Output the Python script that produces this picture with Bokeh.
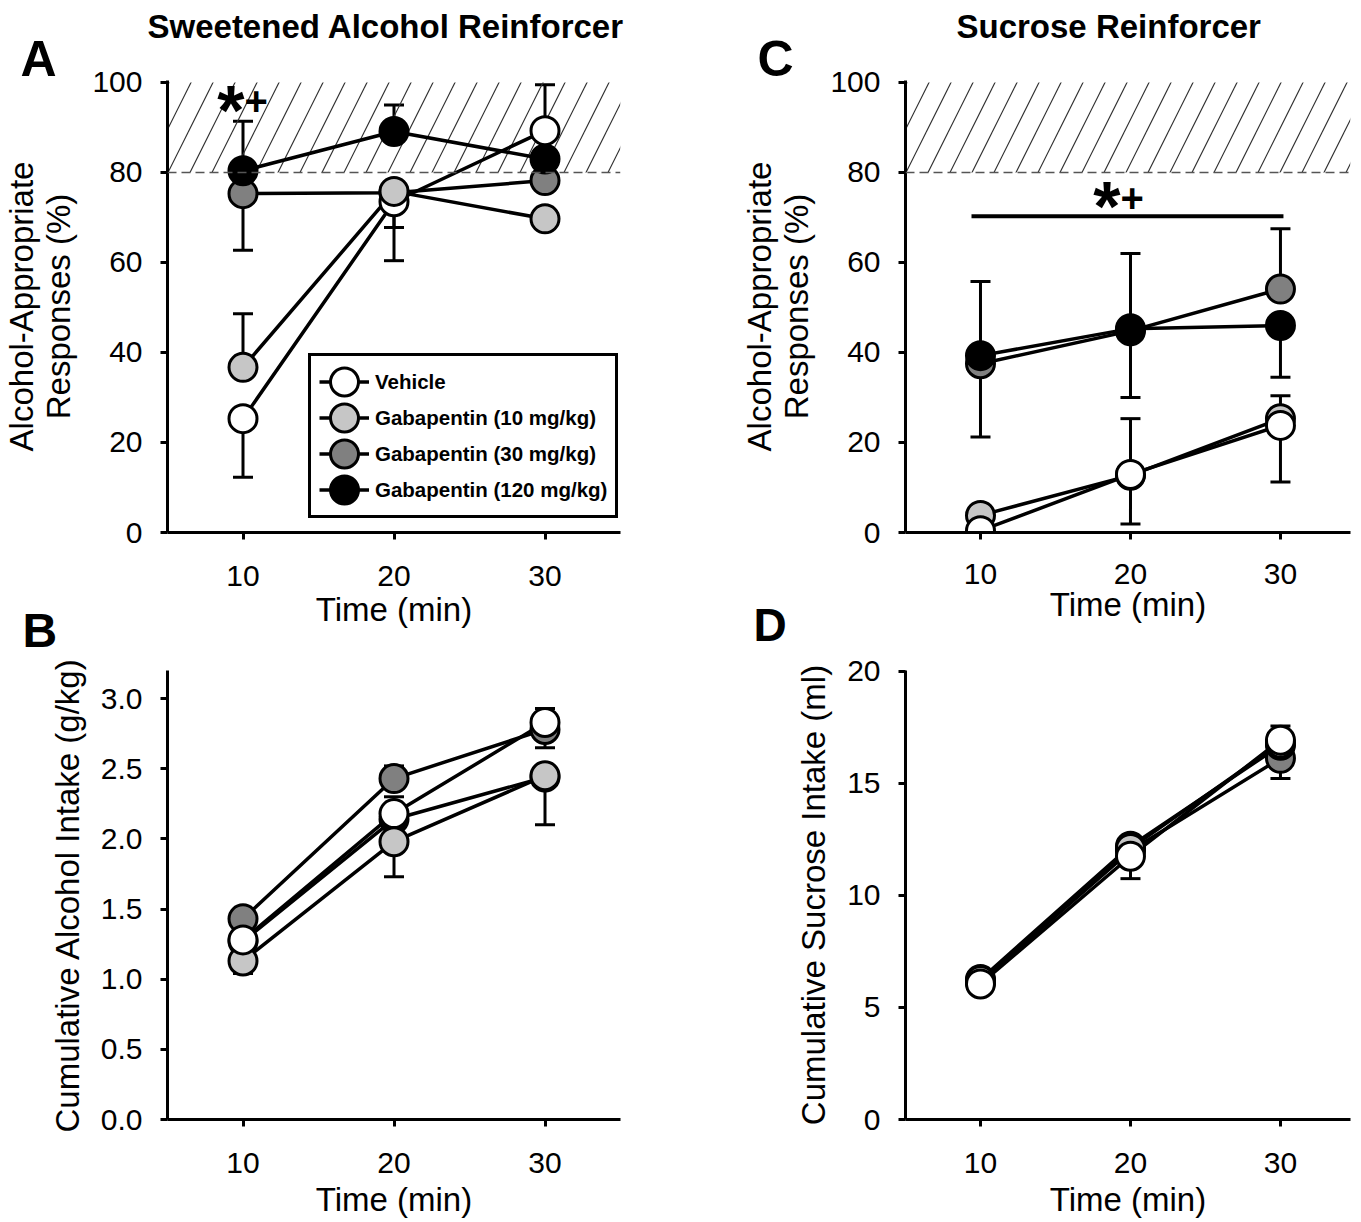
from bokeh.plotting import figure
from bokeh.models import (Label, Legend, LegendItem, Whisker, TeeHead, ColumnDataSource,
                          FixedTicker, NumeralTickFormatter, Range1d, Span, Title)
from bokeh.layouts import column, row
from bokeh.embed import file_html
from bokeh.resources import INLINE

FONT = "Liberation Sans"

# ---------------- data ----------------
time_min = [10, 20, 30]
group_names = ["Vehicle", "Gabapentin (10 mg/kg)", "Gabapentin (30 mg/kg)", "Gabapentin (120 mg/kg)"]
group_fills = ["#FFFFFF", "#C6C6C6", "#808080", "#000000"]

# Panel A: sweetened alcohol reinforcer, alcohol-appropriate responses (%)
a_vehicle = [25.3, 73.5, 89.3]
a_g10 = [36.7, 75.8, 69.7]
a_g30 = [75.3, 75.5, 78.2]
a_g120 = [80.4, 89.1, 83.0]
a_up_vehicle = [0, 0, 10.2]
a_up_g10 = [11.9, 0, 0]
a_up_g30 = [0, 0, 0]
a_up_g120 = [11.0, 5.9, 0]
a_dn_vehicle = [13.0, 13.1, 0]
a_dn_g10 = [0, 8.0, 0]
a_dn_g30 = [12.6, 0, 2.0]
a_dn_g120 = [0, 0, 0]

# Panel B: cumulative alcohol intake (g/kg)
b_vehicle = [1.28, 2.18, 2.83]
b_g10 = [1.13, 1.98, 2.45]
b_g30 = [1.43, 2.43, 2.78]
b_g120 = [1.27, 2.14, 2.44]
b_up_vehicle = [0, 0.12, 0.10]
b_up_g10 = [0, 0, 0]
b_up_g30 = [0, 0.09, 0]
b_up_g120 = [0, 0, 0]
b_dn_vehicle = [0, 0, 0]
b_dn_g10 = [0.09, 0.25, 0.35]
b_dn_g30 = [0, 0, 0.13]
b_dn_g120 = [0, 0, 0]

# Panel C: sucrose reinforcer, alcohol-appropriate responses (%)
c_vehicle = [0.4, 12.9, 23.8]
c_g10 = [3.8, 12.7, 25.3]
c_g30 = [37.5, 44.8, 54.1]
c_g120 = [39.3, 45.3, 46.0]
c_up_vehicle = [0, 0, 0]
c_up_g10 = [0, 12.6, 5.1]
c_up_g30 = [0, 0, 13.4]
c_up_g120 = [16.5, 16.7, 0]
c_dn_vehicle = [0, 11.0, 12.6]
c_dn_g10 = [0, 0, 0]
c_dn_g30 = [16.3, 14.8, 0]
c_dn_g120 = [0, 0, 11.5]

# Panel D: cumulative sucrose intake (ml)
d_vehicle = [6.05, 11.75, 16.93]
d_g10 = [6.2, 12.1, 16.8]
d_g30 = [6.15, 12.0, 16.12]
d_g120 = [6.25, 12.2, 16.7]
d_up_vehicle = [0, 0, 0.63]
d_up_g10 = [0, 0, 0]
d_up_g30 = [0, 0, 0]
d_up_g120 = [0, 0, 0]
d_dn_vehicle = [0, 1.0, 0]
d_dn_g10 = [0, 0, 0]
d_dn_g30 = [0, 0, 0.9]
d_dn_g120 = [0, 0, 0]

x_ticks = [10, 20, 30]
pct_ticks = [0, 20, 40, 60, 80, 100]
alc_ticks = [0, 0.5, 1.0, 1.5, 2.0, 2.5, 3.0]
suc_ticks = [0, 5, 10, 15, 20]

criterion_low = 80
criterion_high = 100
sig_c_from = 9.4
sig_c_to = 30.2
sig_c_line = 70.3

# ---------------- helpers ----------------
def make_fig(width, height, xr, yr, mb_left, mb_right, mb_top, mb_bottom, yticks, ylabel, yfmt=None,
             xlab_standoff=2, xtick_standoff=26):
    p = figure(width=width, height=height, x_range=Range1d(*xr), y_range=Range1d(*yr),
               output_backend="svg", toolbar_location=None,
               min_border_left=mb_left, min_border_right=mb_right,
               min_border_top=mb_top, min_border_bottom=mb_bottom)
    p.xgrid.visible = False
    p.ygrid.visible = False
    p.outline_line_color = None
    p.background_fill_color = "white"
    p.border_fill_color = "white"
    for ax in (p.xaxis[0], p.yaxis[0]):
        ax.axis_line_width = 3
        ax.axis_line_color = "black"
        ax.major_tick_line_width = 3
        ax.major_tick_line_color = "black"
        ax.major_tick_out = 7
        ax.major_tick_in = 0
        ax.minor_tick_line_color = None
        ax.major_label_text_font = FONT
        ax.major_label_text_font_size = "30px"
        ax.major_label_text_color = "black"
        ax.axis_label_text_font = FONT
        ax.axis_label_text_font_size = "33px"
        ax.axis_label_text_font_style = "normal"
        ax.axis_label_text_color = "black"
    p.xaxis.ticker = FixedTicker(ticks=x_ticks)
    p.xaxis.axis_label = "Time (min)"
    p.xaxis.major_label_standoff = xtick_standoff
    p.xaxis.axis_label_standoff = xlab_standoff
    p.yaxis.ticker = FixedTicker(ticks=yticks)
    p.yaxis.major_label_standoff = 18
    p.yaxis.axis_label_standoff = 12
    p.yaxis.axis_label = ylabel
    p.yaxis.axis_label_text_line_height = 1.0
    if yfmt:
        p.yaxis.formatter = NumeralTickFormatter(format=yfmt)
    return p


def draw_series(p, series, ups, downs, order):
    srcs = []
    for m, u, d in zip(series, ups, downs):
        srcs.append(ColumnDataSource(dict(
            x=time_min, y=m,
            hi=[a + b for a, b in zip(m, u)],
            lo=[a - b for a, b in zip(m, d)])))
    for i in order:
        s = srcs[i]
        p.add_layout(Whisker(source=s, base="x", lower="y", upper="hi", dimension="height",
                             line_width=3, line_color="black",
                             upper_head=TeeHead(size=20, line_width=3, line_color="black"),
                             lower_head=None))
        p.add_layout(Whisker(source=s, base="x", lower="lo", upper="y", dimension="height",
                             line_width=3, line_color="black",
                             lower_head=TeeHead(size=20, line_width=3, line_color="black"),
                             upper_head=None))
    lines = {}
    for i in order:
        lines[i] = p.line("x", "y", source=srcs[i], line_width=3.5, line_color="black")
    dots = {}
    for i in order:
        dots[i] = p.ellipse("x", "y", width=28, height=28, width_units="screen",
                            height_units="screen", source=srcs[i],
                            fill_color=group_fills[i], line_color="black", line_width=3)
    return lines, dots


def add_label(p, x, y, text, size, align="left", baseline="alphabetic"):
    p.add_layout(Label(x=x, y=y, text=text, text_font=FONT, text_font_size=size,
                       text_font_style="bold", text_color="black",
                       text_align=align, text_baseline=baseline))


def add_title(p, text, size, offset, standoff, place, valign):
    kw = dict(text=text, text_font=FONT, text_font_size=size, text_font_style="bold",
              text_color="black", align="left", offset=offset, vertical_align=valign)
    try:
        t = Title(standoff=standoff, **kw)
    except Exception:
        t = Title(standoff=0, **kw)
    p.add_layout(t, place)


# ---------------- Panel A ----------------
pA = make_fig(738, 657, (5, 35), (0, 100.44), 167, 118, 80, 125, pct_ticks,
              "Alcohol-Appropriate\nResponses (%)")
pA.quad(left=[5], right=[35], bottom=[criterion_low], top=[criterion_high],
        fill_alpha=0, line_alpha=0, hatch_pattern="/", hatch_color="#333333",
        hatch_weight=1.2, hatch_scale=44)
pA.add_layout(Span(location=criterion_low, dimension="width", line_dash="9 5",
                   line_color="#555555", line_width=1.5))
linesA, dotsA = draw_series(pA, [a_vehicle, a_g10, a_g30, a_g120],
                            [a_up_vehicle, a_up_g10, a_up_g30, a_up_g120],
                            [a_dn_vehicle, a_dn_g10, a_dn_g30, a_dn_g120], [2, 3, 0, 1])
legend = Legend(items=[LegendItem(label=group_names[i], renderers=[linesA[i], dotsA[i]]) for i in range(4)],
                location=(141, 14), label_text_font=FONT, label_text_font_size="20.5px",
                label_text_font_style="bold", label_text_color="black",
                border_line_color="black", border_line_width=3, border_line_alpha=1.0,
                background_fill_color="white", background_fill_alpha=1.0,
                padding=8, spacing=1, margin=0, label_standoff=6,
                glyph_width=50, glyph_height=35, label_height=35)
pA.add_layout(legend)
add_label(pA, 10.1, 93.6, "*", "70px", align="right")
add_label(pA, 10.1, 95.8, "+", "40px", align="left")
add_title(pA, "A", "50px", -147, -13, "above", "bottom")
add_title(pA, "Sweetened Alcohol Reinforcer", "33px", -20, -18, "above", "bottom")
add_title(pA, "B", "48px", -145, -53, "below", "top")

# ---------------- Panel C ----------------
pC = make_fig(622, 652, (5, 34.67), (0, 100.44), 167, 10, 80, 120, pct_ticks,
              "Alcohol-Appropriate\nResponses (%)", xlab_standoff=-1, xtick_standoff=24)
pC.quad(left=[5], right=[34.67], bottom=[criterion_low], top=[criterion_high],
        fill_alpha=0, line_alpha=0, hatch_pattern="/", hatch_color="#333333",
        hatch_weight=1.2, hatch_scale=44)
pC.add_layout(Span(location=criterion_low, dimension="width", line_dash="9 5",
                   line_color="#555555", line_width=1.5))
draw_series(pC, [c_vehicle, c_g10, c_g30, c_g120],
            [c_up_vehicle, c_up_g10, c_up_g30, c_up_g120],
            [c_dn_vehicle, c_dn_g10, c_dn_g30, c_dn_g120], [2, 3, 1, 0])
pC.segment(x0=[sig_c_from], x1=[sig_c_to], y0=[sig_c_line], y1=[sig_c_line],
           line_width=4, line_color="black")
add_label(pC, 19.33, 72.3, "*", "70px", align="right")
add_label(pC, 19.33, 74.4, "+", "40px", align="left")
add_title(pC, "C", "50px", -148, -13, "above", "bottom")
add_title(pC, "Sucrose Reinforcer", "33px", 51, -18, "above", "bottom")
add_title(pC, "D", "46px", -152, -53, "below", "top")

# ---------------- Panel B ----------------
pB = make_fig(738, 563, (5, 35), (0, 3.2), 167, 118, 13, 99, alc_ticks,
              "Cumulative Alcohol Intake (g/kg)", yfmt="0.0", xlab_standoff=5)
draw_series(pB, [b_vehicle, b_g10, b_g30, b_g120],
            [b_up_vehicle, b_up_g10, b_up_g30, b_up_g120],
            [b_dn_vehicle, b_dn_g10, b_dn_g30, b_dn_g120], [2, 3, 1, 0])

# ---------------- Panel D ----------------
pD = make_fig(622, 568, (5, 34.67), (0, 20.04), 167, 10, 18, 99, suc_ticks,
              "Cumulative Sucrose Intake (ml)", xlab_standoff=5)
draw_series(pD, [d_vehicle, d_g10, d_g30, d_g120],
            [d_up_vehicle, d_up_g10, d_up_g30, d_up_g120],
            [d_dn_vehicle, d_dn_g10, d_dn_g30, d_dn_g120], [2, 3, 1, 0])

layout = row(column(pA, pB), column(pC, pD))
open("out.html", "w").write(file_html(layout, INLINE))
